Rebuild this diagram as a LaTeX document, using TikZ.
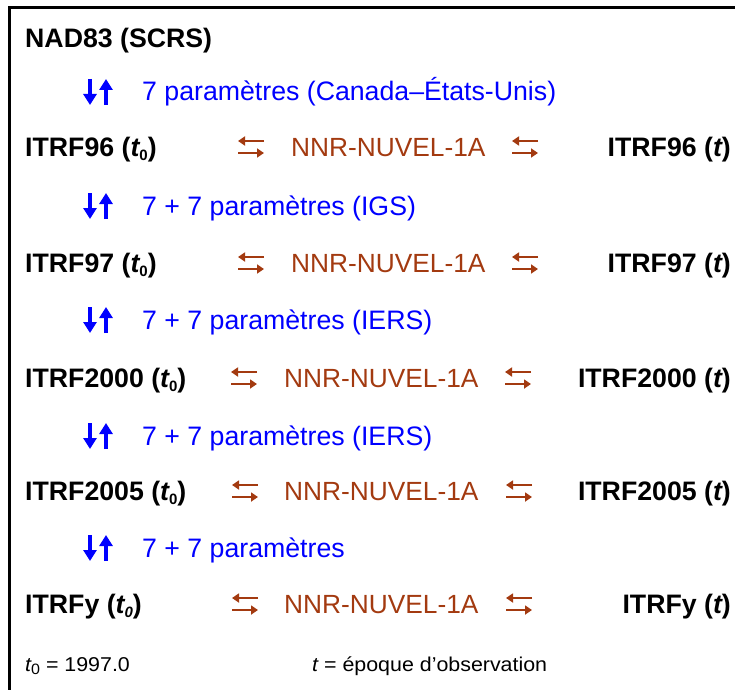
\documentclass[tikz,border=0pt]{standalone}
\usepackage{fontspec}
\setmainfont{Liberation Sans}
\newfontfamily\notefam[FakeStretch=1.07]{Liberation Sans}
\usetikzlibrary{arrows.meta}
\definecolor{nnr}{RGB}{163,58,16}
\definecolor{par}{RGB}{0,0,255}
\newcommand\sub[1]{\raisebox{-0.18em}{\fontsize{15}{15}\selectfont #1}}
\tikzset{
  refbox/.style={inner sep=0pt,anchor=base west,font=\fontsize{26.7}{30}\selectfont\bfseries,text=black},
  refboxr/.style={refbox,anchor=base east},
  partext/.style={inner sep=0pt,anchor=base west,font=\fontsize{26.7}{30}\selectfont,text=par},
  nnrtext/.style={inner sep=0pt,anchor=base west,font=\fontsize{26.3}{30}\selectfont,text=nnr},
  note/.style={inner sep=0pt,anchor=base west,font=\notefam\fontsize{20}{24}\selectfont},
  varrow/.style={draw=par,line width=3.4pt,-{Triangle[width=13pt,length=11pt]}},
  harrow/.style={draw=nnr,line width=2.6pt,-{Triangle[width=9pt,length=7pt]}},
  frameline/.style={draw=black,line width=2.6pt}
}
\newcommand\vpair[2]{% name, y center
  \coordinate (#1a) at (90,#2-13);
  \coordinate (#1b) at (90,#2+13);
  \coordinate (#1c) at (106,#2+13);
  \coordinate (#1d) at (106,#2-13);
  \draw[varrow] (#1a) -- (#1b);
  \draw[varrow] (#1c) -- (#1d);
}
\newcommand\hpair[3]{% name, x left, y center
  \coordinate (#1a) at (#2+26,#3-6);
  \coordinate (#1b) at (#2,#3-6);
  \coordinate (#1c) at (#2,#3+6);
  \coordinate (#1d) at (#2+26,#3+6);
  \draw[harrow] (#1a) -- (#1b);
  \draw[harrow] (#1c) -- (#1d);
}
\begin{document}
\begin{tikzpicture}[x=1pt,y=-1pt]
\useasboundingbox (0,0) rectangle (735,690);
\coordinate (fa) at (735,7.5);
\coordinate (fb) at (9.5,7.5);
\coordinate (fc) at (9.5,690);
\draw[frameline] (fa) -- (fb) -- (fc);

\node[refbox] (nad) at (25,48) {NAD83 (SCRS)};

\vpair{v1}{92}
\node[partext] (p1) at (142,101) {7 paramètres (Canada–États-Unis)};

\node[refbox] (a96) at (25,156) {ITRF96 ({\itshape t}\sub{0})};
\hpair{h1}{238}{147}
\node[nnrtext] (n1) at (291,156) {NNR-NUVEL-1A};
\hpair{h2}{512}{147}
\node[refboxr] (b96) at (731,156) {ITRF96 ({\itshape t})};

\vpair{v2}{206}
\node[partext] (p2) at (142,215) {7 + 7 paramètres (IGS)};

\node[refbox] (a97) at (25,272) {ITRF97 ({\itshape t}\sub{0})};
\hpair{h3}{238}{263}
\node[nnrtext] (n2) at (291,272) {NNR-NUVEL-1A};
\hpair{h4}{512}{263}
\node[refboxr] (b97) at (731,272) {ITRF97 ({\itshape t})};

\vpair{v3}{320}
\node[partext] (p3) at (142,329) {7 + 7 paramètres (IERS)};

\node[refbox] (a00) at (25,387) {ITRF2000 ({\itshape t}\sub{0})};
\hpair{h5}{231}{378}
\node[nnrtext] (n3) at (284,387) {NNR-NUVEL-1A};
\hpair{h6}{505}{378}
\node[refboxr] (b00) at (731,387) {ITRF2000 ({\itshape t})};

\vpair{v4}{436}
\node[partext] (p4) at (142,445) {7 + 7 paramètres (IERS)};

\node[refbox] (a05) at (25,500) {ITRF2005 ({\itshape t}\sub{0})};
\hpair{h7}{232}{491}
\node[nnrtext] (n4) at (284,500) {NNR-NUVEL-1A};
\hpair{h8}{506}{491}
\node[refboxr] (b05) at (731,500) {ITRF2005 ({\itshape t})};

\vpair{v5}{548}
\node[partext] (p5) at (142,557) {7 + 7 paramètres};

\node[refbox] (ay) at (25,613) {ITRFy ({\itshape t\sub{0}})};
\hpair{h9}{232}{604}
\node[nnrtext] (n5) at (284,613) {NNR-NUVEL-1A};
\hpair{h10}{506}{604}
\node[refboxr] (by) at (731,613) {ITRFy ({\itshape t})};

\node[note] (t0) at (25,671) {{\itshape t}\sub{0} = 1997.0};
\node[note] (tt) at (312,671) {{\itshape t} = époque d’observation};
\end{tikzpicture}
\end{document}
